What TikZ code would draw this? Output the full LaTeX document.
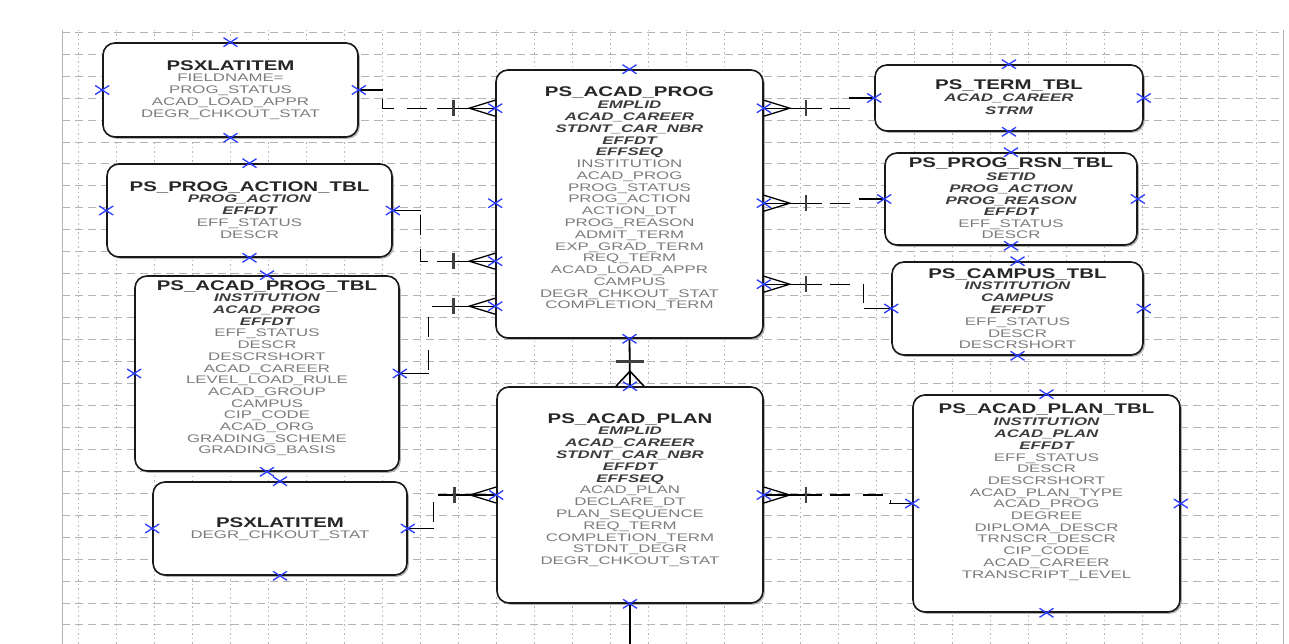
\documentclass[tikz,border=0pt]{standalone}
\usepackage{fontspec}
\setmainfont{Liberation Sans}
\newfontfamily\ttlfont[FakeStretch=1.46]{Liberation Sans}
\newfontfamily\fldfont[FakeStretch=1.53]{Liberation Sans}
\usetikzlibrary{calc,shadows}
\definecolor{keycol}{HTML}{3C3C3C}
\definecolor{fldcol}{HTML}{7C7C7C}
\definecolor{gridcol}{HTML}{B4B4B4}
\definecolor{xblue}{HTML}{2B3BFF}
\newcommand\fk{\bfseries\itshape\color{keycol}}
% #1 prefix, #2 cx, #3 title y, #4 title, #5 first field y, #6 step, #7 list
\newcommand\ertext[7]{%
  \node[ttl] (#1-t) at (#2,#3+5) {#4};
  \foreach \fname [count=\i from 0] in {#7} {\node[fld] (#1-f\i) at (#2,#5+\i*#6+3.9) {\fname};}%
}
\begin{document}
\begin{tikzpicture}[x=1pt,y=-1pt,
  gridh/.style={draw=gridcol, line width=0.8pt, dash pattern=on 8pt off 5pt},
  gridv/.style={draw=gridcol, line width=0.9pt, dash pattern=on 1.5pt off 3pt},
  erbox/.style={draw=black!90, line width=1.6pt, rounded corners=12pt, fill=white, inner sep=0pt,
    drop shadow={shadow xshift=1.8pt, shadow yshift=-1.8pt, fill=gray!60, opacity=1}},
  ttl/.style={font=\ttlfont\bfseries\fontsize{14}{16}\selectfont, text=black!85, inner sep=0pt, anchor=base},
  fld/.style={font=\fldfont\fontsize{11}{12}\selectfont, text=fldcol, inner sep=0pt, anchor=base},
  rel/.style={draw=black, line width=1.3pt, dash pattern=on 20pt off 13pt},
  relsolid/.style={draw=black, line width=1.3pt},
  crowline/.style={draw=black, line width=1.3pt},
  barline/.style={draw=black!75, line width=2.6pt},
  bx/.pic={\draw[xblue, line width=1.3pt] (-7,-4.5) -- (7,4.5) (-7,4.5) -- (7,-4.5);},
  crow/.pic={\draw[crowline] (0,0) -- (58,0);
             \draw[crowline] (0,-8) -- (26,0) -- (0,8);
             \draw[barline] (42,-8) -- (42,8);},
  crowshort/.pic={\draw[crowline, line width=1.6pt] (0,-14) -- (15,0) -- (0,14);
             \draw[barline] (25,-14) -- (25,14);}
]
\useasboundingbox (0,0) rectangle (1289,644);
\fill[white] (0,0) rectangle (1289,644);
% grid
\foreach \k in {0,...,27} \draw[gridh] (62,32.2+\k*21.95) -- (1283,32.2+\k*21.95);
\foreach \k in {0,...,31} \draw[gridv] (78+\k*38,30) -- (78+\k*38,644);
\draw[gridcol, line width=0.9pt] (62,644) -- (62,30);
\draw[gridcol, line width=0.9pt] (1283,30) -- (1283,644);

% boxes
\node[erbox, minimum width=255pt, minimum height=94pt]  (x1)   at (230.5,90)   {};
\node[erbox, minimum width=285pt, minimum height=93pt]  (pa)   at (249.5,210.5){};
\node[erbox, minimum width=264pt, minimum height=195pt] (apt)  at (267,373.5)  {};
\node[erbox, minimum width=254pt, minimum height=93pt]  (x2)   at (280,528.5)  {};
\node[erbox, minimum width=267pt, minimum height=268pt] (prog) at (629.5,204)  {};
\node[erbox, minimum width=266pt, minimum height=216pt] (plan) at (630,495)    {};
\node[erbox, minimum width=268pt, minimum height=66pt]  (term) at (1009,98)    {};
\node[erbox, minimum width=252pt, minimum height=92pt]  (rsn)  at (1011,199)   {};
\node[erbox, minimum width=251pt, minimum height=93pt]  (camp) at (1017.5,308.5){};
\node[erbox, minimum width=267pt, minimum height=217pt] (aplt) at (1046.5,503.5){};

% texts
\ertext{x1}{230.5}{66}{PSXLATITEM}{78}{12}{FIELDNAME=, PROG\_STATUS, ACAD\_LOAD\_APPR, DEGR\_CHKOUT\_STAT}
\ertext{pa}{249.5}{187}{PS\_PROG\_ACTION\_TBL}{199}{12}{\fk PROG\_ACTION, \fk EFFDT, EFF\_STATUS, DESCR}
\ertext{apt}{267}{285}{PS\_ACAD\_PROG\_TBL}{298}{11.69}{\fk INSTITUTION, \fk ACAD\_PROG, \fk EFFDT, EFF\_STATUS, DESCR, DESCRSHORT, ACAD\_CAREER, LEVEL\_LOAD\_RULE, ACAD\_GROUP, CAMPUS, CIP\_CODE, ACAD\_ORG, GRADING\_SCHEME, GRADING\_BASIS}
\ertext{x2}{280}{522}{PSXLATITEM}{535}{12}{DEGR\_CHKOUT\_STAT}
\ertext{prog}{629.5}{92}{PS\_ACAD\_PROG}{105}{11.76}{\fk EMPLID, \fk ACAD\_CAREER, \fk STDNT\_CAR\_NBR, \fk EFFDT, \fk EFFSEQ, INSTITUTION, ACAD\_PROG, PROG\_STATUS, PROG\_ACTION, ACTION\_DT, PROG\_REASON, ADMIT\_TERM, EXP\_GRAD\_TERM, REQ\_TERM, ACAD\_LOAD\_APPR, CAMPUS, DEGR\_CHKOUT\_STAT, COMPLETION\_TERM}
\ertext{plan}{630}{418}{PS\_ACAD\_PLAN}{431}{11.8}{\fk EMPLID, \fk ACAD\_CAREER, \fk STDNT\_CAR\_NBR, \fk EFFDT, \fk EFFSEQ, ACAD\_PLAN, DECLARE\_DT, PLAN\_SEQUENCE, REQ\_TERM, COMPLETION\_TERM, STDNT\_DEGR, DEGR\_CHKOUT\_STAT}
\ertext{term}{1009}{85}{PS\_TERM\_TBL}{98}{13}{\fk ACAD\_CAREER, \fk STRM}
\ertext{rsn}{1011}{163}{PS\_PROG\_RSN\_TBL}{177}{11.6}{\fk SETID, \fk PROG\_ACTION, \fk PROG\_REASON, \fk EFFDT, EFF\_STATUS, DESCR}
\ertext{camp}{1017.5}{273}{PS\_CAMPUS\_TBL}{286}{11.8}{\fk INSTITUTION, \fk CAMPUS, \fk EFFDT, EFF\_STATUS, DESCR, DESCRSHORT}
\ertext{aplt}{1046.5}{408}{PS\_ACAD\_PLAN\_TBL}{422}{11.7}{\fk INSTITUTION, \fk ACAD\_PLAN, \fk EFFDT, EFF\_STATUS, DESCR, DESCRSHORT, ACAD\_PLAN\_TYPE, ACAD\_PROG, DEGREE, DIPLOMA\_DESCR, TRNSCR\_DESCR, CIP\_CODE, ACAD\_CAREER, TRANSCRIPT\_LEVEL}

% ports on PS_ACAD_PROG
\coordinate (prog-l1) at ($(prog.north west)+(0,39)$);
\coordinate (prog-l2) at ($(prog.north west)+(0,134)$);
\coordinate (prog-l3) at ($(prog.north west)+(0,192)$);
\coordinate (prog-l4) at ($(prog.north west)+(0,237)$);
\coordinate (prog-r1) at ($(prog.north east)+(0,39)$);
\coordinate (prog-r2) at ($(prog.north east)+(0,134)$);
\coordinate (prog-r3) at ($(prog.north east)+(0,215)$);
\coordinate (planbot) at ($(plan.south)+(0,41)$);

% relationships (non-identifying, dashed)
\draw[rel] (x1.east) -- ++(24,0) |- (prog-l1);
\draw[relsolid] (x1.east) -- ++(24,0);
\path (prog-l1) pic[rotate=180] {crow};

\draw[rel] (pa.east) -- ++(28,0) |- (prog-l3);
\draw[relsolid] (pa.east) -- ++(28,0);
\path (prog-l3) pic[rotate=180] {crow};

\draw[rel] (apt.east) -- ++(29,0) |- (prog-l4);
\draw[relsolid] (apt.east) -- ++(29,0);
\path (prog-l4) pic[rotate=180] {crow};

\draw[rel] (x2.east) -- ++(26,0) |- (plan.west);
\draw[relsolid] (x2.east) -- ++(26,0);
\path (plan.west) pic[rotate=180] {crow};

\draw[rel] (prog-r1) -- ++(86,0) |- (term.west);
\draw[relsolid] (term.west) -- ++(-25,0);
\path (prog-r1) pic {crow};

\draw[rel] (prog-r2) -- ++(92,0) |- (rsn.west);
\draw[relsolid] (rsn.west) -- ++(-25,0);
\path (prog-r2) pic {crow};

\draw[rel] (prog-r3) -- ++(100,0) |- (camp.west);
\draw[relsolid] (camp.west) -- ++(-27,0);
\path (prog-r3) pic {crow};

\draw[rel] (plan.east) -- ++(127,0) |- (aplt.west);
\draw[relsolid] (aplt.west) -- ++(-23,0);
\path (plan.east) pic {crow};

% identifying relationship
\draw[relsolid, line width=1.8pt] (prog.south) -- (plan.north);
\path (plan.north) pic[rotate=90] {crowshort};
\draw[relsolid, line width=1.8pt] (plan.south) -- (planbot);

% blue markers
\foreach \p in {x1.north,x1.south,x1.west,x1.east,
                pa.north,pa.south,pa.west,pa.east,
                apt.north,apt.south,apt.west,apt.east,
                x2.north,x2.south,x2.west,x2.east,
                prog.north,prog.south,prog-l1,prog-l2,prog-l3,prog-l4,prog-r1,prog-r2,prog-r3,
                plan.north,plan.south,plan.west,plan.east,
                term.north,term.south,term.west,term.east,
                rsn.north,rsn.south,rsn.west,rsn.east,
                camp.north,camp.south,camp.west,camp.east,
                aplt.north,aplt.south,aplt.west,aplt.east}
  \path (\p) pic {bx};
\end{tikzpicture}
\end{document}
